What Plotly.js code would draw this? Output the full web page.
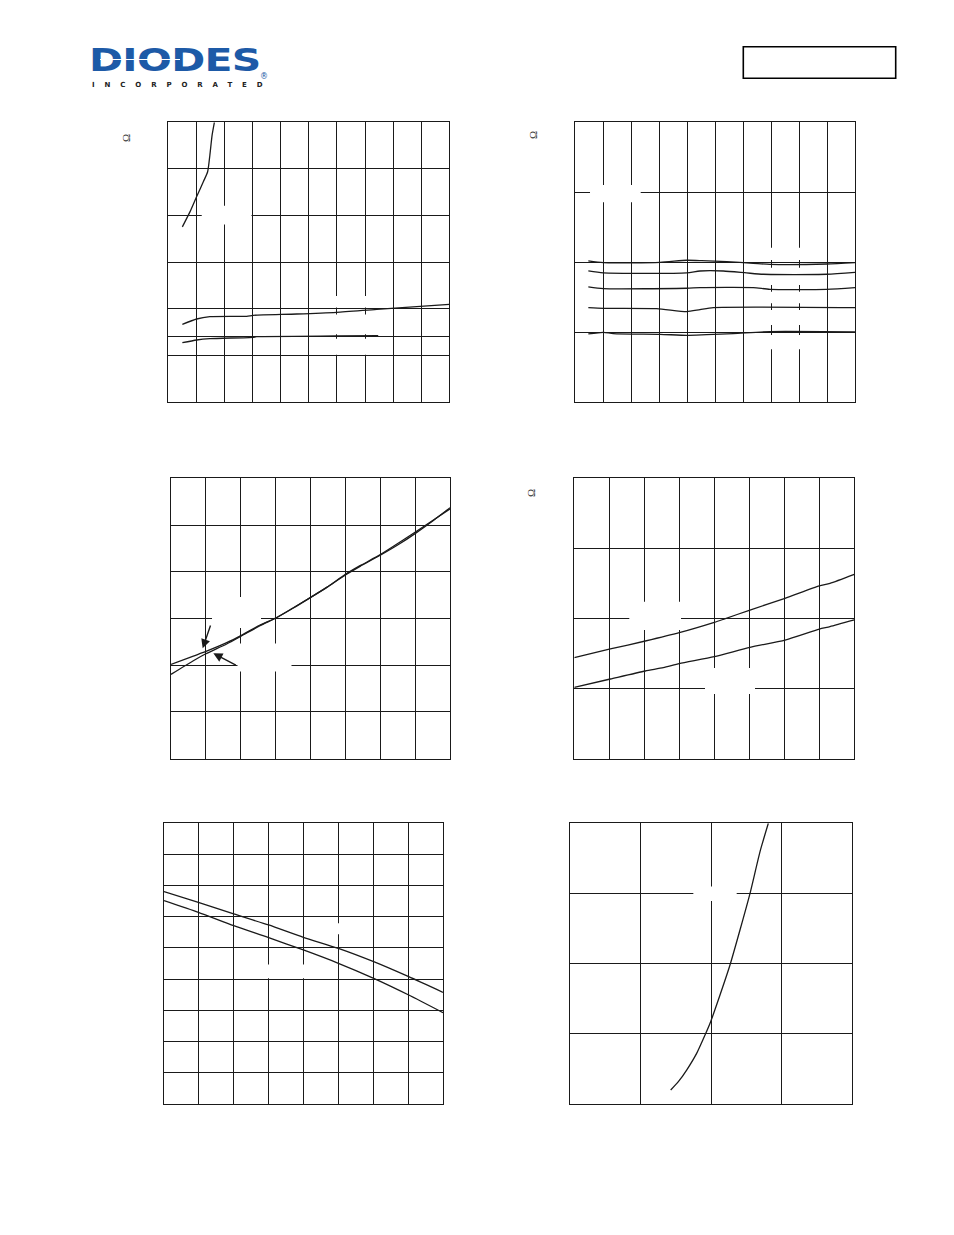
<!DOCTYPE html>
<html>
<head>
<meta charset="utf-8">
<script src="https://cdn.plot.ly/plotly-3.0.1.min.js"></script>
<style>
  html, body { margin: 0; padding: 0; background: #fff; }
  #wrap { position: relative; width: 954px; height: 1235px; overflow: hidden; }
  #plot { position: absolute; left: 0; top: 0; width: 954px; height: 1235px; }
  .logo { position: absolute; z-index: 5; font-family: "DejaVu Sans", sans-serif; font-weight: bold; white-space: nowrap; }
  #logoMain { left: 89px; top: 44px; font-size: 32px; line-height: 32px; color: #1d5aa7; transform: scaleX(1.28); transform-origin: left top; letter-spacing: -0.5px; }
  #logoStripe { left: 100px; top: 58.5px; width: 80px; height: 1.5px; background: #fff; z-index: 6; }
  #logoSub { left: 92px; top: 81px; font-size: 7px; line-height: 8px; color: #222; letter-spacing: 9.9px; }
  #logoReg { left: 260px; top: 73px; font-size: 8px; line-height: 8px; color: #1d5aa7; font-weight: normal; }
</style>
</head>
<body>
<div id="wrap">
  <div id="plot"></div>
  <div class="logo" id="logoMain">DIODES</div>
  <div class="logo" id="logoStripe"></div>
  <div class="logo" id="logoSub">INCORPORATED</div>
  <div class="logo" id="logoReg">®</div>
</div>
<script>
// ---------------- DATA ----------------
// Chart 1 (top-left)
const c1GateX  = [0.50, 0.77, 1.01, 1.25, 1.40, 1.48, 1.56, 1.64];
const c1GateY  = [3.76, 4.08, 4.41, 4.73, 4.94, 5.30, 5.73, 6.00];
const c1UpperX = [0.50, 1.01, 1.48, 2.79, 3.02, 4.57, 5.99, 7.42, 10.0];
const c1UpperY = [1.671, 1.785, 1.834, 1.843, 1.864, 1.892, 1.928, 1.993, 2.10];
const c1LowerX = [0.50, 1.01, 1.48, 3.02, 3.14, 5.99, 7.47];
const c1LowerY = [1.277, 1.335, 1.363, 1.393, 1.406, 1.421, 1.427];
const c1GridX  = [0,1,2,3,4,5,6,7,8,9,10];
const c1GridY  = [0,1,1.42,2,3,4,5,6];

// Chart 2 (top-right), five curves
const c2X1 = [0.476, 1.012, 3.036, 3.988, 4.524, 5.417, 6.369, 6.964, 8.988, 10];
const c2Y1 = [2.019, 1.995, 2.000, 2.029, 2.024, 2.010, 1.986, 1.971, 1.976, 1.995];
const c2X2 = [0.476, 1.012, 3.988, 4.464, 5.298, 6.131, 6.726, 8.988, 10];
const c2Y2 = [1.876, 1.848, 1.848, 1.876, 1.876, 1.848, 1.829, 1.829, 1.857];
const c2X3 = [0.476, 1.012, 3.988, 4.464, 6.369, 6.964, 8.988, 10];
const c2Y3 = [1.648, 1.624, 1.629, 1.638, 1.638, 1.614, 1.614, 1.638];
const c2X4 = [0.476, 1.012, 2.917, 3.988, 4.464, 4.940, 10];
const c2Y4 = [1.352, 1.343, 1.338, 1.295, 1.324, 1.352, 1.352];
const c2X5 = [0.476, 1.012, 1.369, 3.036, 3.988, 4.702, 5.655, 6.964, 10];
const c2Y5 = [0.976, 1.000, 0.981, 0.971, 0.957, 0.967, 0.981, 1.010, 1.005];
const c2GridX = [0,1,2,3,4,5,6,7,8,9,10];
const c2GridY = [0,1,2,3,4];

// Chart 3 (middle-left), two curves
const c3XA = [0, 0.641, 0.985, 1.597, 2.017, 2.553, 3.021, 3.509, 4.006, 4.465, 5.0, 5.421, 6.013, 6.568, 7.008, 7.524, 8.0];
const c3YA = [2.019, 2.197, 2.290, 2.482, 2.639, 2.860, 3.017, 3.231, 3.452, 3.666, 3.930, 4.116, 4.358, 4.604, 4.822, 5.098, 5.370];
const c3XB = [0, 0.641, 0.985, 1.597, 2.017, 2.553, 3.021, 3.509, 4.006, 4.465, 5.0, 5.421, 6.013, 6.568, 7.008, 7.524, 8.0];
const c3YB = [1.805, 2.097, 2.240, 2.455, 2.625, 2.846, 3.017, 3.224, 3.452, 3.666, 3.944, 4.130, 4.372, 4.636, 4.850, 5.107, 5.345];
const c3GridX = [0,1,2,3,4,5,6,7,8];
const c3GridY = [0,1,2,3,4,5,6];

// Chart 4 (middle-right), two curves
const c4X  = [0, 1.029, 2.029, 3.0, 4.0, 4.257, 5.019, 6.019, 7.0, 7.305, 8.0];
const c4YU = [1.441, 1.565, 1.679, 1.798, 1.945, 1.988, 2.121, 2.288, 2.464, 2.502, 2.630];
const c4XL = [0, 1.029, 2.029, 2.543, 3.0, 4.0, 5.019, 6.019, 7.0, 7.305, 8.0];
const c4YL = [1.018, 1.137, 1.251, 1.298, 1.356, 1.455, 1.589, 1.693, 1.850, 1.884, 1.979];
const c4GridX = [0,1,2,3,4,5,6,7,8];
const c4GridY = [0,1,2,3,4];

// Chart 5 (bottom-left), two curves
const c5X  = [0, 0.985, 1.998, 3.002, 3.996, 5.0, 6.013, 7.017, 8.0];
const c5YU = [6.807, 6.464, 6.090, 5.736, 5.340, 4.987, 4.559, 4.077, 3.574];
const c5YL = [6.518, 6.143, 5.715, 5.330, 4.934, 4.506, 4.024, 3.489, 2.922];
const c5GridX = [0,1,2,3,4,5,6,7,8];
const c5GridY = [0,1,2,3,4,5,6,7,8,9];

// Chart 6 (bottom-right), one curve
const c6X = [1.427, 1.536, 1.654, 1.796, 1.915, 1.995, 2.128, 2.270, 2.412, 2.555, 2.697, 2.815];
const c6Y = [0.195, 0.314, 0.480, 0.718, 0.980, 1.170, 1.551, 1.979, 2.478, 3.001, 3.596, 4.000];
const c6GridX = [0,1,2,3,4];
const c6GridY = [0,1,2,3,4];

// ---------------- LAYOUT ----------------
const W = 954, H = 1235;
const INK = '#1a1a1a';

// plot frames in page pixels
const frames = [
  {l:168.3, r:449.3, t:122.3, b:402.3, xr:[0,10], yr:[0,6], gx:c1GridX, gy:c1GridY},
  {l:575.0, r:855.0, t:122.3, b:402.3, xr:[0,10], yr:[0,4], gx:c2GridX, gy:c2GridY},
  {l:171.0, r:450.0, t:478.3, b:758.7, xr:[0,8],  yr:[0,6], gx:c3GridX, gy:c3GridY},
  {l:574.3, r:854.3, t:478.3, b:758.7, xr:[0,8],  yr:[0,4], gx:c4GridX, gy:c4GridY},
  {l:164.0, r:443.0, t:823.3, b:1103.7, xr:[0,8], yr:[0,9], gx:c5GridX, gy:c5GridY},
  {l:570.3, r:851.7, t:823.3, b:1103.7, xr:[0,4], yr:[0,4], gx:c6GridX, gy:c6GridY}
];

const layout = {
  width: W, height: H,
  margin: {l:0, r:0, t:0, b:0},
  paper_bgcolor: '#fff', plot_bgcolor: '#fff',
  showlegend: false,
  shapes: [], annotations: []
};

frames.forEach((f, i) => {
  const n = i === 0 ? '' : String(i + 1);
  const common = {
    showline: true, mirror: true, linecolor: INK, linewidth: 1,
    showgrid: true, gridcolor: INK, gridwidth: 1,
    zeroline: false, ticks: '', showticklabels: false,
    tickmode: 'array', fixedrange: true
  };
  layout['xaxis' + n] = Object.assign({}, common, {
    domain: [f.l / W, f.r / W], range: f.xr, tickvals: f.gx, anchor: 'y' + n
  });
  layout['yaxis' + n] = Object.assign({}, common, {
    domain: [1 - f.b / H, 1 - f.t / H], range: f.yr, tickvals: f.gy, anchor: 'x' + n
  });
});

// white label gaps (between grid and traces)
function gap(i, x0, x1, y0, y1) {
  const n = i === 1 ? '' : String(i);
  layout.shapes.push({type:'rect', xref:'x' + n, yref:'y' + n, x0, x1, y0, y1,
    fillcolor:'#fff', line:{width:0}, layer:'between'});
}
gap(1, 1.19, 2.96, 3.81, 4.21);
gap(1, 5.90, 7.10, 2.03, 2.28);
gap(1, 5.90, 7.10, 1.46, 1.88);
gap(1, 5.90, 7.10, 1.02, 1.36);
gap(2, 0.536, 2.346, 2.857, 3.104);
gap(2, 6.82, 8.21, 2.033, 2.209);
gap(2, 6.82, 8.21, 1.676, 1.923);
gap(2, 6.82, 8.21, 1.414, 1.580);
gap(2, 6.82, 8.21, 1.104, 1.319);
gap(2, 6.82, 8.21, 0.757, 0.961);
gap(3, 1.176, 2.581, 2.797, 3.460);
gap(3, 1.907, 3.455, 1.866, 2.465);
gap(4, 1.571, 3.049, 1.836, 2.240);
gap(4, 3.734, 5.163, 0.923, 1.294);
gap(5, 2.81, 4.19, 4.03, 4.47);
gap(5, 4.80, 5.20, 5.44, 5.79);
gap(6, 1.749, 2.365, 2.892, 3.097);

// top-right header box
layout.shapes.push({type:'rect', xref:'paper', yref:'paper',
  x0: 743.3 / W, x1: 895.7 / W, y0: 1 - 78.3 / H, y1: 1 - 46.7 / H,
  line:{color:'#000', width:1.6}, fillcolor:'rgba(0,0,0,0)', layer:'above'});

// Ω labels (rotated axis-title remnants)
[[126, 138], [533, 135], [531, 493]].forEach(p => {
  layout.annotations.push({xref:'paper', yref:'paper', x: p[0] / W, y: 1 - p[1] / H,
    xanchor:'center', yanchor:'middle',
    text:'Ω', showarrow:false, textangle:-90,
    font:{family:'Liberation Serif, serif', size:11, color:'#333'}});
});

// arrows in chart 3
layout.annotations.push({xref:'x3', yref:'y3', axref:'x3', ayref:'y3',
  x:0.908, y:2.361, ax:1.147, ay:2.882, text:'', showarrow:true,
  arrowhead:2, arrowsize:1.3, arrowwidth:1.4, arrowcolor:INK});
layout.annotations.push({xref:'x3', yref:'y3', axref:'x3', ayref:'y3',
  x:1.214, y:2.254, ax:1.902, ay:1.983, text:'', showarrow:true,
  arrowhead:2, arrowsize:1.3, arrowwidth:1.4, arrowcolor:INK});

// ---------------- TRACES ----------------
function line(x, y, i) {
  const n = i === 1 ? '' : String(i);
  return {type:'scatter', mode:'lines', x, y, xaxis:'x' + n, yaxis:'y' + n,
    line:{color:INK, width:1.3, shape:'spline', smoothing:0.6},
    hoverinfo:'skip', cliponaxis:true};
}
const data = [
  line(c1GateX, c1GateY, 1), line(c1UpperX, c1UpperY, 1), line(c1LowerX, c1LowerY, 1),
  line(c2X1, c2Y1, 2), line(c2X2, c2Y2, 2), line(c2X3, c2Y3, 2), line(c2X4, c2Y4, 2), line(c2X5, c2Y5, 2),
  line(c3XA, c3YA, 3), line(c3XB, c3YB, 3),
  line(c4X, c4YU, 4), line(c4XL, c4YL, 4),
  line(c5X, c5YU, 5), line(c5X, c5YL, 5),
  line(c6X, c6Y, 6)
];

Plotly.newPlot('plot', data, layout, {staticPlot:true, displayModeBar:false});
</script>
</body>
</html>
